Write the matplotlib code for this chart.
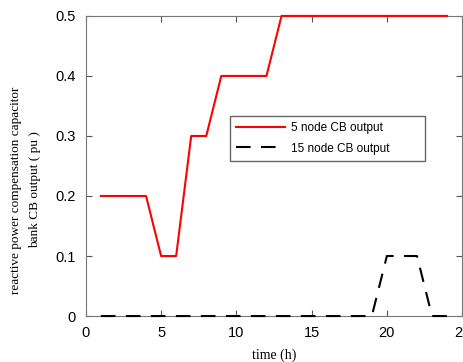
import matplotlib
matplotlib.use('Agg')
import matplotlib.pyplot as plt

hours = list(range(1, 25))
cb5 = [0.2, 0.2, 0.2, 0.2, 0.1, 0.1, 0.3, 0.3, 0.4, 0.4, 0.4, 0.4,
       0.5, 0.5, 0.5, 0.5, 0.5, 0.5, 0.5, 0.5, 0.5, 0.5, 0.5, 0.5]
cb15 = [0, 0, 0, 0, 0, 0, 0, 0, 0, 0, 0, 0,
        0, 0, 0, 0, 0, 0, 0, 0.1, 0.1, 0.1, 0, 0]

plt.rcParams['font.family'] = 'Liberation Sans'

fig = plt.figure(figsize=(4.64, 3.62), dpi=100)
ax = fig.add_axes([0.185, 0.127, 0.811, 0.829])

ax.plot(hours, cb5, color='red', lw=1.5, label='5 node CB output', clip_on=False, zorder=5)
ax.plot(hours, cb15, color='black', lw=1.5, dashes=(7, 5), label='15 node CB output',
        clip_on=False, zorder=5)

ax.set_xlim(0, 25)
ax.set_ylim(0, 0.5)
ax.set_xticks([0, 5, 10, 15, 20, 25])
ax.set_yticks([0, 0.1, 0.2, 0.3, 0.4, 0.5])
ax.set_yticklabels(['0', '0.1', '0.2', '0.3', '0.4', '0.5'])
ax.tick_params(direction='in', top=True, right=True, labelsize=10.5, length=4,
               color='#555555', pad=7)
for s in ax.spines.values():
    s.set_color('#777777')

ax.set_xlabel('time (h)', family='Liberation Serif', fontsize=10, labelpad=6)
ax.set_ylabel('reactive power compensation capacitor\nbank CB output ( pu )',
              family='Liberation Serif', fontsize=9.5, linespacing=1.75)
ax.yaxis.set_label_coords(-0.12, 0.42)

leg = ax.legend(loc='upper left', bbox_to_anchor=(0.383, 0.517, 0.519, 0.15),
                mode='expand', fontsize=8.5, fancybox=False, edgecolor='#666666',
                framealpha=1, handlelength=4.2, handletextpad=0.5,
                borderpad=0.5, borderaxespad=0, labelspacing=0.75)
leg.get_frame().set_linewidth(1.0)

fig.savefig('out.png', dpi=100)
